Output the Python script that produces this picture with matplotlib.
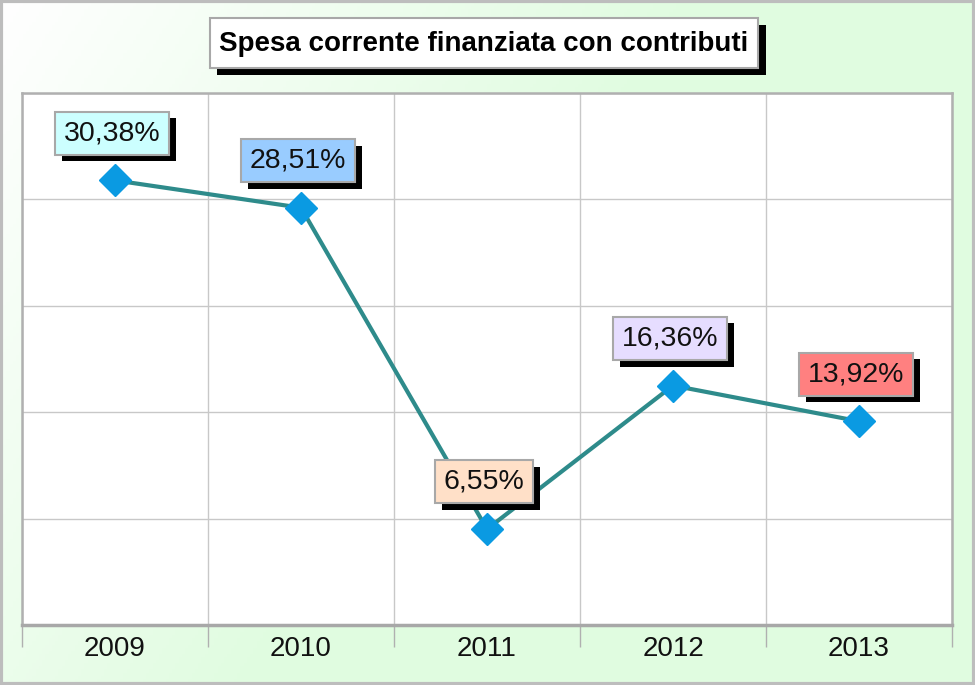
import numpy as np
import matplotlib
matplotlib.use("Agg")
import matplotlib.pyplot as plt
import matplotlib.patheffects as pe
from matplotlib import font_manager
from matplotlib.patches import Rectangle

# ---- data ----
years = ["2009", "2010", "2011", "2012", "2013"]
values = [30.38, 28.51, 6.55, 16.36, 13.92]
labels = ["30,38%", "28,51%", "6,55%", "16,36%", "13,92%"]
box_colors = ["#CCFFFF", "#99CCFF", "#FFE0C8", "#E6DDFF", "#FF8080"]
title = "Spesa corrente finanziata con contributi"

W, H = 975, 685
fig = plt.figure(figsize=(W / 100, H / 100), dpi=100)

# background gradient
bg = fig.add_axes([0, 0, 1, 1], zorder=-10)
xx, yy = np.meshgrid(np.linspace(0, 1, 300), np.linspace(0, 1, 220))
t = np.clip((xx + 0.46 * yy) / 0.72, 0, 1)
white = np.array([1.0, 1.0, 1.0])
green = np.array([224, 252, 224]) / 255.0
img = white[None, None, :] * (1 - t[..., None]) + green[None, None, :] * t[..., None]
bg.imshow(img, aspect="auto", extent=[0, 1, 0, 1], origin="upper")
bg.set_xlim(0, 1)
bg.set_ylim(0, 1)
bg.axis("off")
bg.add_patch(Rectangle((0.001, 0.001), 0.998, 0.997, transform=bg.transAxes,
                       fill=False, edgecolor="#BDBDBD", lw=3))

names = {f.name for f in font_manager.fontManager.ttflist}
if "Liberation Sans Narrow" in names:
    tfam, tsize = "Liberation Sans Narrow", 22
else:
    tfam, tsize = "Liberation Sans", 20

# title box with shadow (figure pixel coordinates)
pxT = fig.transFigure
def fr(x0, y0, x1, y1):
    return (x0 / W, 1 - y1 / H), (x1 - x0) / W, (y1 - y0) / H
xy, w, h = fr(217, 25, 766, 75)
fig.patches.append(Rectangle(xy, w, h, transform=pxT, facecolor="black", edgecolor="none", zorder=1))
xy, w, h = fr(210, 18, 758, 68)
fig.patches.append(Rectangle(xy, w, h, transform=pxT, facecolor="white", edgecolor="#A8A8A8", lw=1.5, zorder=2))
fig.text(484 / W, 1 - 44 / H, title, ha="center", va="center", fontsize=tsize,
         fontweight="bold", family=tfam, zorder=3)

# main axes
ax = fig.add_axes([22 / W, 1 - 625 / H, 930 / W, 532 / H])
ax.set_facecolor("white")
ymax = 36.35
ax.set_xlim(-0.5, 4.5)
ax.set_ylim(0, ymax)
ax.set_yticks(np.linspace(0, ymax, 6))
ax.set_yticklabels([])
ax.tick_params(axis="y", length=0)
ax.set_xticks(range(len(years)))
ax.set_xticklabels(years, fontsize=20, family="Liberation Sans", color="#111111")
ax.tick_params(axis="x", which="major", length=0, pad=8)
ax.set_xticks(np.arange(-0.5, len(years), 1.0), minor=True)
ax.tick_params(axis="x", which="minor", length=15.8, width=1, color="#B0B0B0")
ax.grid(True, axis="y", color="#C8C8C8", lw=1)
ax.grid(True, axis="x", which="minor", color="#C8C8C8", lw=1)
ax.set_axisbelow(True)
for s in ["left", "top", "right"]:
    ax.spines[s].set_color("#B0B0B0")
    ax.spines[s].set_linewidth(1.8)
ax.spines["bottom"].set_color("#A8A8A8")
ax.spines["bottom"].set_linewidth(2.5)

x = np.arange(len(years))
ax.plot(x, values, color="#2E8B8B", lw=3, zorder=3, clip_on=False)
ax.plot(x, values, ls="none", marker="D", ms=16, mfc="#0A9AE2", mec="#0A9AE2",
        zorder=4, clip_on=False)

for i, (v, lab, c) in enumerate(zip(values, labels, box_colors)):
    a = ax.annotate(lab, (i, v), xytext=(-2, 34), textcoords="offset points",
                    ha="center", va="center", fontsize=20.5, family="Liberation Sans",
                    color="#111111", zorder=6,
                    bbox=dict(boxstyle="square,pad=0.3", facecolor=c, edgecolor="#A8A8A8", lw=1.5))
    a.get_bbox_patch().set_path_effects([
        pe.SimplePatchShadow(offset=(4.8, -4.8), shadow_rgbFace="black", alpha=1.0),
        pe.Normal(),
    ])

fig.savefig("out.png", dpi=100)
